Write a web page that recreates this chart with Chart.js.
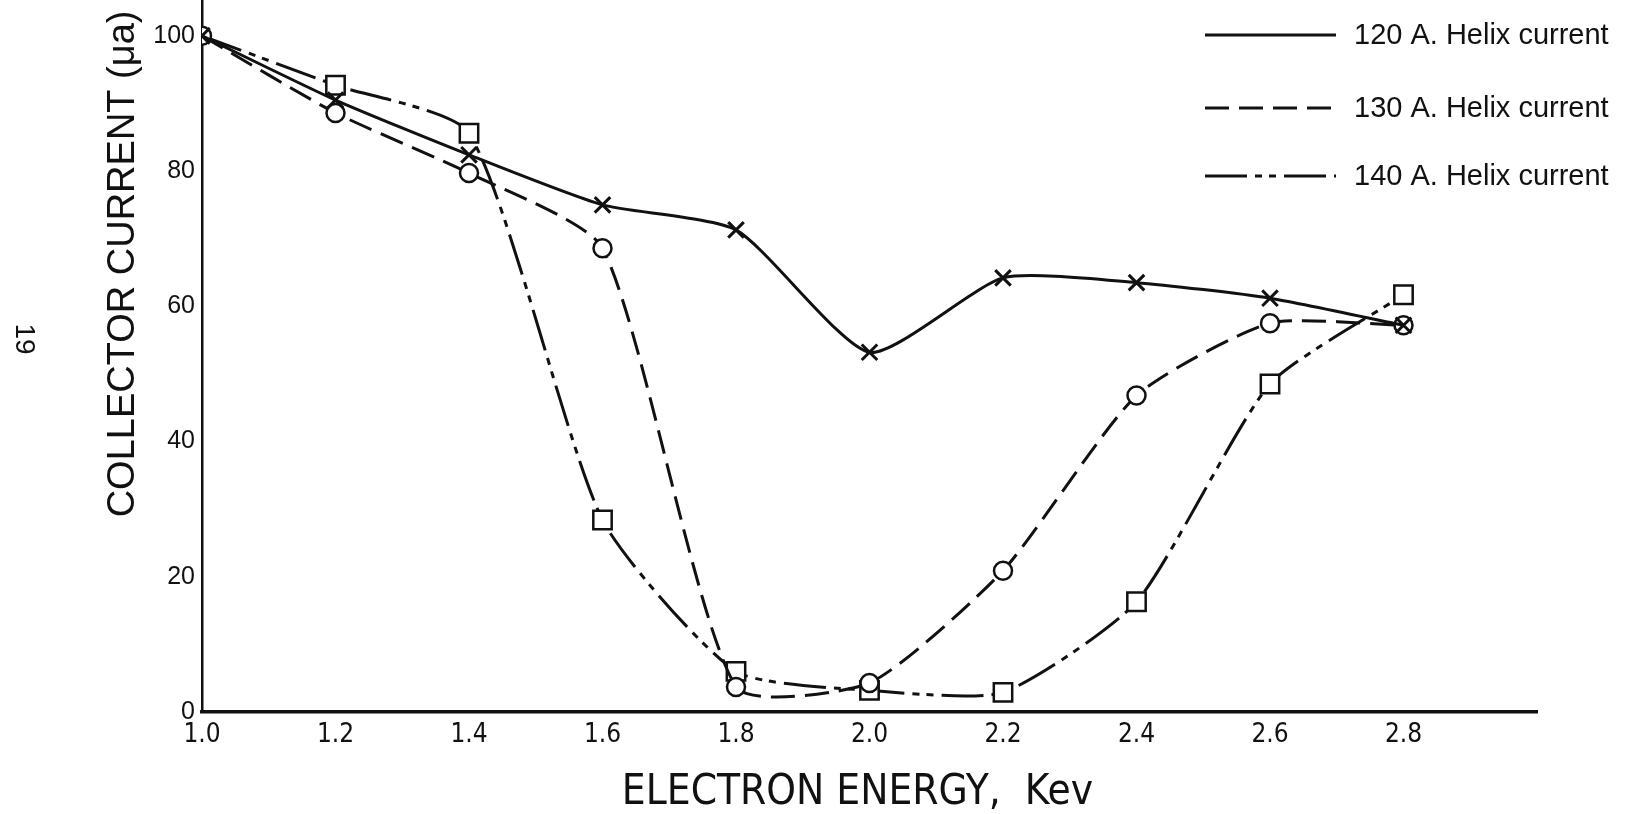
<!DOCTYPE html>
<html>
<head>
<meta charset="utf-8">
<script src="https://cdn.jsdelivr.net/npm/chart.js@4"></script>
<style>
  html, body { margin: 0; padding: 0; background: #fff; }
  #wrap { width: 1634px; height: 814px; }
</style>
</head>
<body>
<div id="wrap"><canvas id="chart-collector"></canvas></div>
<script>
// Collector current vs electron energy, three helix currents
const ENERGY = [1.0, 1.2, 1.4, 1.6, 1.8, 2.0, 2.2, 2.4, 2.6, 2.8];
const HELIX_120 = [100, 90.5, 82.4, 75.0, 71.3, 53.2, 64.2, 63.5, 61.2, 57.2];
const HELIX_130 = [100, 88.6, 79.7, 68.6, 3.7, 4.3, 20.9, 46.8, 57.5, 57.2];
const HELIX_140 = [100, 92.7, 85.6, 28.4, 6.0, 3.2, 2.9, 16.3, 48.5, 61.7];
const SERIES_LABELS = ['120 A. Helix current', '130 A. Helix current', '140 A. Helix current'];
const X_TICKS = [1.0, 1.2, 1.4, 1.6, 1.8, 2.0, 2.2, 2.4, 2.6, 2.8];
const Y_TICKS = [0, 20, 40, 60, 80, 100];

const INK = '#111';
const NARROW = '"Liberation Sans Narrow", "DejaVu Sans Condensed", "Liberation Sans", sans-serif';
const PLAIN = '"Liberation Sans", Arial, sans-serif';

const DASH_130 = [24, 10];
const DASH_140 = [42, 8, 7, 7, 7, 8];

const toPoints = (ys) => ENERGY.map((x, i) => ({ x, y: ys[i] }));

/** 오른쪽 위 범례 + 여백의 쪽 번호 */
const paperLegend = {
  id: 'paperLegend',
  afterDraw(chart) {
    const { ctx } = chart;
    const rows = [35, 108, 176];
    ctx.save();
    chart.data.datasets.forEach((ds, i) => {
      ctx.strokeStyle = INK;
      ctx.lineWidth = 3;
      ctx.setLineDash(ds.borderDash || []);
      ctx.beginPath();
      ctx.moveTo(1205, rows[i]);
      ctx.lineTo(1336, rows[i]);
      ctx.stroke();
      ctx.setLineDash([]);
      ctx.fillStyle = INK;
      ctx.font = '29px ' + PLAIN;
      ctx.textBaseline = 'middle';
      ctx.textAlign = 'left';
      ctx.fillText(ds.label, 1354, rows[i] + 1);
    });
    // rotated page number at the left margin
    ctx.translate(24, 339);
    ctx.rotate(Math.PI / 2);
    ctx.font = '28px ' + PLAIN;
    ctx.textAlign = 'center';
    ctx.fillText('19', 0, 0);
    ctx.restore();
  },
};

new Chart(document.getElementById('chart-collector'), {
  type: 'line',
  data: {
    datasets: [
      {
        label: SERIES_LABELS[0],
        data: toPoints(HELIX_120),
        borderColor: INK,
        borderWidth: 3,
        pointStyle: 'crossRot',
        pointRadius: 11,
        pointBorderWidth: 3,
        pointBorderColor: INK,
      },
      {
        label: SERIES_LABELS[1],
        data: toPoints(HELIX_130),
        borderColor: INK,
        borderWidth: 3,
        borderDash: DASH_130,
        pointStyle: 'circle',
        pointRadius: 9,
        pointBorderWidth: 2.5,
        pointBorderColor: INK,
        pointBackgroundColor: '#fff',
      },
      {
        label: SERIES_LABELS[2],
        data: toPoints(HELIX_140),
        borderColor: INK,
        borderWidth: 3,
        borderDash: DASH_140,
        pointStyle: 'rect',
        pointRadius: (c) => (c.dataIndex === 0 ? 0 : 13),
        pointBorderWidth: 2.5,
        pointBorderColor: INK,
        pointBackgroundColor: '#fff',
      },
    ],
  },
  options: {
    responsive: true,
    maintainAspectRatio: false,
    animation: false,
    layout: { autoPadding: false, padding: { top: 0, left: 0, bottom: 0, right: 97 } },
    elements: { line: { tension: 0.2, fill: false } },
    plugins: {
      legend: { display: false },
      tooltip: { enabled: false },
    },
    scales: {
      x: {
        type: 'linear',
        min: 1.0,
        max: 3.0,
        afterBuildTicks: (axis) => { axis.ticks = X_TICKS.map((v) => ({ value: v })); },
        afterFit: (axis) => { axis.height = 102; axis.paddingLeft = 0; axis.paddingRight = 0; },
        grid: { display: false, drawTicks: false },
        border: { display: true, color: INK, width: 3.5 },
        ticks: {
          color: INK,
          padding: 8,
          maxRotation: 0,
          autoSkip: false,
          font: { family: NARROW, size: 26 },
          callback: (v) => Number(v).toFixed(1),
        },
        title: {
          display: true,
          text: 'ELECTRON ENERGY,  Kev  ',
          color: INK,
          font: { family: NARROW, size: 42, lineHeight: 1 },
          padding: { top: 0, bottom: 0 },
        },
      },
      y: {
        min: 0,
        max: 105.3,
        afterBuildTicks: (axis) => { axis.ticks = Y_TICKS.map((v) => ({ value: v })); },
        afterFit: (axis) => { axis.width = 202; axis.paddingTop = 0; axis.paddingBottom = 0; },
        grid: { display: false, drawTicks: false },
        border: { display: true, color: INK, width: 2.5 },
        ticks: {
          color: INK,
          padding: 7,
          font: { family: PLAIN, size: 25 },
        },
        title: {
          display: true,
          text: 'COLLECTOR CURRENT (μa) ',
          align: 'end',
          color: INK,
          font: { family: PLAIN, size: 38, lineHeight: 1 },
          padding: { top: 105, bottom: 0 },
        },
      },
    },
  },
  plugins: [paperLegend],
});
</script>
</body>
</html>
